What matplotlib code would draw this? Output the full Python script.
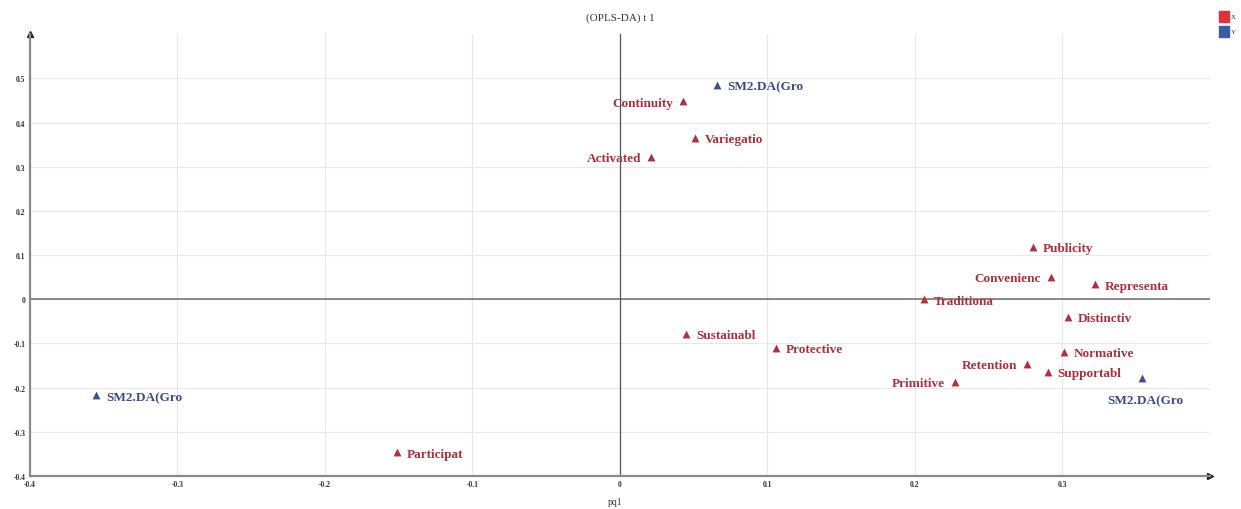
import numpy as np
import matplotlib.pyplot as plt
from matplotlib.patches import Rectangle

# loadings, X block (responses)
x_names = ['Continuity', 'Variegatio', 'Activated', 'Publicity', 'Convenienc',
           'Representa', 'Traditiona', 'Distinctiv', 'Sustainabl', 'Protective',
           'Normative', 'Retention', 'Supportabl', 'Primitive', 'Participat']
x_pq1 = [0.043, 0.051, 0.021, 0.280, 0.292, 0.322, 0.206, 0.304, 0.045, 0.106,
         0.301, 0.276, 0.290, 0.227, -0.151]
x_pq2 = [0.448, 0.365, 0.322, 0.119, 0.050, 0.034, 0.000, -0.040, -0.079, -0.110,
         -0.119, -0.146, -0.164, -0.187, -0.347]

# loadings, Y block (group dummies)
y_names = ['SM2.DA(Gro', 'SM2.DA(Gro', 'SM2.DA(Gro']
y_pq1 = [0.066, 0.354, -0.355]
y_pq2 = [0.486, -0.178, -0.218]

# which side each label goes
x_side = ['l', 'r', 'l', 'r', 'l', 'r', 'r', 'r', 'r', 'r', 'r', 'l', 'r', 'l', 'r']
y_side = ['r', 'b', 'r']

red = '#b0303f'
blue = '#3d4f8c'
red_txt = '#a8303f'
blue_txt = '#3a4a86'

plt.rcParams['font.family'] = ['Liberation Serif', 'DejaVu Serif']

fig = plt.figure(figsize=(12.41, 5.10), dpi=100)
ax = fig.add_axes([0.024, 0.065, 0.951, 0.866])
ax.set_xlim(-0.4, 0.4)
ax.set_ylim(-0.4, 0.6)

ax.set_xticks(np.arange(-0.4, 0.31, 0.1))
ax.set_yticks(np.arange(-0.4, 0.51, 0.1))
ax.set_xticklabels(['-0.4', '-0.3', '-0.2', '-0.1', '0', '0.1', '0.2', '0.3'])
ax.set_yticklabels(['-0.4', '-0.3', '-0.2', '-0.1', '0', '0.1', '0.2', '0.3', '0.4', '0.5'])
ax.tick_params(labelsize=5.5, length=0, pad=3, colors='#333333')
for t in ax.get_xticklabels() + ax.get_yticklabels():
    t.set_fontweight('bold')
ax.grid(True, color='#e8e8e8', lw=0.8)
ax.set_axisbelow(True)

for s in ['top', 'right']:
    ax.spines[s].set_visible(False)
for s in ['left', 'bottom']:
    ax.spines[s].set_color('#8a8a8a')
    ax.spines[s].set_linewidth(1.6)

# arrow heads on the axes
ax.plot(1, 0, '>', color='#222222', ms=5, transform=ax.transAxes, clip_on=False)
ax.plot(0, 1, '^', color='#222222', ms=5, transform=ax.transAxes, clip_on=False)

ax.axhline(0, color='#777777', lw=1.2, zorder=1)
ax.axvline(0, color='#555555', lw=0.9, zorder=1)


def put_labels(xs, ys, names, sides, col):
    for xv, yv, nm, sd in zip(xs, ys, names, sides):
        if sd == 'r':
            ax.annotate(nm, (xv, yv), xytext=(7, -1), textcoords='offset points',
                        ha='left', va='center', fontsize=9.5, fontweight='bold', color=col)
        elif sd == 'l':
            ax.annotate(nm, (xv, yv), xytext=(-7, -1), textcoords='offset points',
                        ha='right', va='center', fontsize=9.5, fontweight='bold', color=col)
        else:
            ax.annotate(nm, (xv, yv), xytext=(2, -16), textcoords='offset points',
                        ha='center', va='center', fontsize=9.5, fontweight='bold', color=col)


ax.scatter(x_pq1, x_pq2, marker='^', s=32, color=red, zorder=3, linewidths=0)
ax.scatter(y_pq1, y_pq2, marker='^', s=32, color=blue, zorder=3, linewidths=0)
put_labels(x_pq1, x_pq2, x_names, x_side, red_txt)
put_labels(y_pq1, y_pq2, y_names, y_side, blue_txt)

fig.text(0.5, 0.964, '(OPLS-DA) t 1', ha='center', va='center', fontsize=8, color='#333333')
fig.text(0.496, 0.006, 'pq1', ha='center', va='bottom', fontsize=7, color='#333333')

# legend swatches top right
fig.patches.append(Rectangle((0.982, 0.955), 0.008, 0.022, transform=fig.transFigure,
                             color='#e0303c', figure=fig))
fig.patches.append(Rectangle((0.982, 0.925), 0.008, 0.022, transform=fig.transFigure,
                             color='#3b5aa6', figure=fig))
fig.text(0.992, 0.966, 'X', fontsize=5, va='center', color='#333333')
fig.text(0.992, 0.936, 'Y', fontsize=5, va='center', color='#333333')

fig.savefig('out.png', dpi=100)
